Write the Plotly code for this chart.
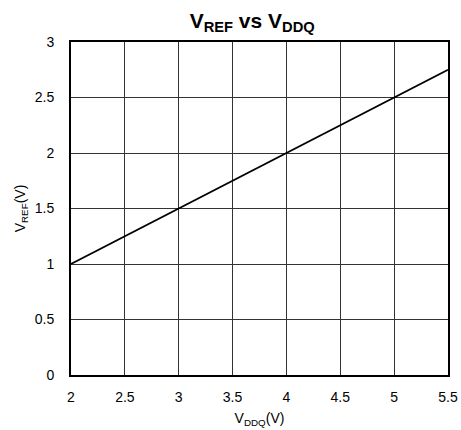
import plotly.graph_objects as go

vddq = [2, 5.5]
vref = [1, 2.75]
x_ticks = [2, 2.5, 3, 3.5, 4, 4.5, 5, 5.5]
x_tick_labels = ["2", "2.5", "3", "3.5", "4", "4.5", "5", "5.5"]
y_ticks = [0, 0.5, 1, 1.5, 2, 2.5, 3]
y_tick_labels = ["0", "0.5", "1", "1.5", "2", "2.5", "3"]

fig = go.Figure()
fig.add_trace(go.Scatter(x=vddq, y=vref, mode="lines",
                         line=dict(color="black", width=1.8), showlegend=False))

font = "Liberation Sans, Arial, sans-serif"
fig.update_layout(
    width=461, height=430,
    margin=dict(l=71, r=13, t=42, b=55, autoexpand=False),
    paper_bgcolor="white", plot_bgcolor="white",
    font=dict(family=font, size=14, color="black"),
    title=dict(text="<b>V<sub>REF</sub> vs V<sub>DDQ</sub></b>",
               x=0.547, xanchor="center", y=0.953, yanchor="middle",
               font=dict(size=21, family=font, color="black"),
               automargin=False),
)
fig.update_xaxes(range=[2, 5.5], tickvals=x_ticks, ticktext=x_tick_labels,
                 showgrid=True, gridcolor="#333", gridwidth=1,
                 showline=True, linecolor="black", linewidth=2, mirror=True,
                 ticks="", ticklabelstandoff=8, zeroline=False, automargin=False,
                 title=dict(text="V<sub>DDQ</sub>(V)", standoff=9, font=dict(size=14)))
fig.update_yaxes(range=[0, 3], tickvals=y_ticks, ticktext=y_tick_labels,
                 showgrid=True, gridcolor="#333", gridwidth=1,
                 showline=True, linecolor="black", linewidth=2, mirror=True,
                 ticks="", ticklabelstandoff=12, zeroline=False, automargin=False,
                 title=dict(text="V<sub>REF</sub>(V)", standoff=6, font=dict(size=14)))

fig.write_html("out.html", config={"displayModeBar": False},
               post_script="document.body.style.margin='0';document.body.style.overflow='hidden';")
